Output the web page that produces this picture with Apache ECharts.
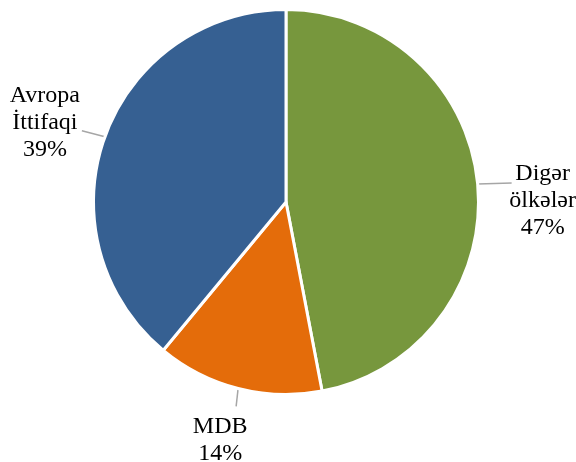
<!DOCTYPE html>
<html>
<head>
<meta charset="utf-8">
<script src="https://cdn.jsdelivr.net/npm/echarts@6/dist/echarts.min.js"></script>
<style>
  html, body { margin: 0; padding: 0; background: #ffffff; }
  #chart { width: 576px; height: 462px; }
</style>
</head>
<body>
<div id="chart"></div>
<script>
// Export shares by destination
const categories = ['Digər\nölkələr', 'MDB', 'Avropa\nİttifaqi'];
const shares = [47, 14, 39];
const colors = ['#77973D', '#E46C0A', '#366092'];

// Leader-line end (relative to slice edge) and label centre (relative to line end)
const leader = [
  { line: [34, -1], text: [31, 18] },
  { line: [-2, 18], text: [-16, 34] },
  { line: [-23, -6], text: [-37, -8] }
];

const chart = echarts.init(document.getElementById('chart'), null, { renderer: 'canvas' });

chart.setOption({
  backgroundColor: '#ffffff',
  animation: false,
  series: [{
    type: 'pie',
    center: [286, 202],
    radius: 192.5,
    startAngle: 90,
    clockwise: true,
    data: categories.map((name, i) => ({
      name: name,
      value: shares[i],
      itemStyle: { color: colors[i] }
    })),
    itemStyle: { borderColor: '#ffffff', borderWidth: 3 },
    label: {
      show: true,
      position: 'outside',
      formatter: p => p.name + '\n' + p.value + '%',
      fontFamily: '"Liberation Serif", "Times New Roman", serif',
      fontSize: 24,
      lineHeight: 27,
      color: '#000000',
      align: 'center',
      overflow: 'none',
      width: 120
    },
    labelLine: {
      show: true,
      length: 10,
      length2: 10,
      lineStyle: { color: '#a6a6a6', width: 1.5 }
    },
    labelLayout: function (params) {
      const i = params.dataIndex;
      const p0 = params.labelLinePoints[0];
      const o = leader[i];
      const end = [p0[0] + o.line[0], p0[1] + o.line[1]];
      return {
        x: end[0] + o.text[0],
        y: end[1] + o.text[1],
        align: 'center',
        verticalAlign: 'middle',
        labelLinePoints: [p0, end, end]
      };
    }
  }]
});
</script>
</body>
</html>
